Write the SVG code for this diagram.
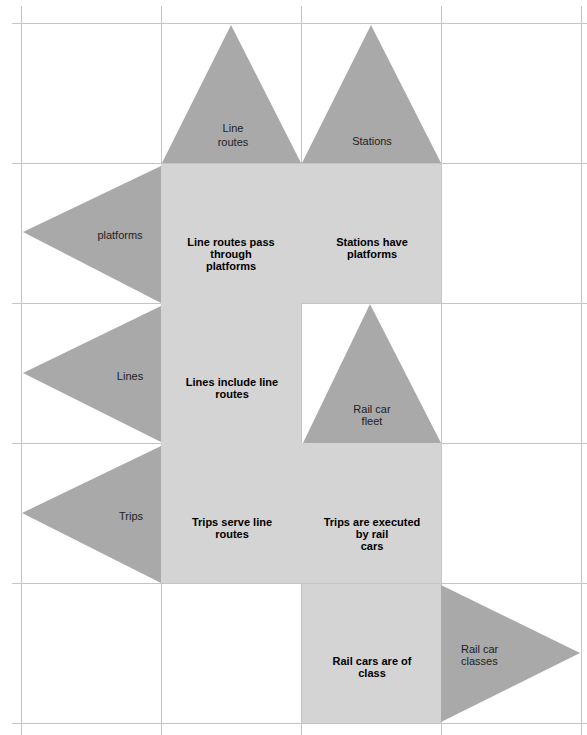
<svg xmlns="http://www.w3.org/2000/svg" width="587" height="735" viewBox="0 0 587 735">
<style>
.grid line{stroke:#c4c4c4;stroke-width:1}
.sq{fill:#d4d4d4}
.tri{fill:#a9a9a9}
.lab{font-family:"Liberation Sans",Arial,sans-serif;font-size:11px;fill:#222;text-anchor:middle}
.bold{font-family:"Liberation Sans",Arial,sans-serif;font-size:11px;font-weight:bold;fill:#000;text-anchor:middle}
</style>
<rect width="587" height="735" fill="#fff"/>
<g class="grid">
<line x1="12" y1="23.5" x2="587" y2="23.5"/>
<line x1="12" y1="163.5" x2="587" y2="163.5"/>
<line x1="12" y1="303.5" x2="587" y2="303.5"/>
<line x1="12" y1="443.5" x2="587" y2="443.5"/>
<line x1="12" y1="583.5" x2="587" y2="583.5"/>
<line x1="12" y1="723.5" x2="587" y2="723.5"/>
<line x1="21.5" y1="6" x2="21.5" y2="735"/>
<line x1="161.5" y1="6" x2="161.5" y2="735"/>
<line x1="301.5" y1="6" x2="301.5" y2="735"/>
<line x1="441.5" y1="6" x2="441.5" y2="735"/>
<line x1="581.5" y1="6" x2="581.5" y2="735"/>
</g>
<g id="connectors"></g>
<g id="sq-line-routes-platforms"><rect class="sq" x="161" y="164" width="140" height="139"/><text class="bold" x="231" y="246">Line routes pass</text><text class="bold" x="231" y="258">through</text><text class="bold" x="231" y="270">platforms</text></g>
<g id="sq-stations-platforms"><rect class="sq" x="301" y="164" width="140" height="139"/><text class="bold" x="372" y="246">Stations have</text><text class="bold" x="372" y="258">platforms</text></g>
<g id="sq-lines-line-routes"><rect class="sq" x="161" y="303" width="140" height="140"/><text class="bold" x="232" y="386">Lines include line</text><text class="bold" x="232" y="398">routes</text></g>
<g id="sq-trips-line-routes"><rect class="sq" x="161" y="443" width="140" height="140"/><text class="bold" x="232" y="526">Trips serve line</text><text class="bold" x="232" y="538">routes</text></g>
<g id="sq-trips-rail-cars"><rect class="sq" x="301" y="443" width="140" height="140"/><text class="bold" x="372" y="526">Trips are executed</text><text class="bold" x="372" y="538">by rail</text><text class="bold" x="372" y="550">cars</text></g>
<g id="sq-rail-cars-class"><rect class="sq" x="302" y="584" width="139" height="139"/><text class="bold" x="372" y="665">Rail cars are of</text><text class="bold" x="372" y="677">class</text></g>
<g id="tri-line-routes"><polygon class="tri" points="162,163 231,25 301,163"/><text class="lab" x="233" y="132">Line</text><text class="lab" x="233" y="146">routes</text></g>
<g id="tri-stations"><polygon class="tri" points="302,163 371,25 441,163"/><text class="lab" x="372" y="145">Stations</text></g>
<g id="tri-platforms"><polygon class="tri" points="161,166 23,232 161,303"/><text class="lab" x="120" y="239">platforms</text></g>
<g id="tri-lines"><polygon class="tri" points="161,306 23,373 161,442"/><text class="lab" x="130" y="380">Lines</text></g>
<g id="tri-rail-car-fleet"><polygon class="tri" points="303,443 370,304 441,443"/><text class="lab" x="372" y="413">Rail car</text><text class="lab" x="372" y="425">fleet</text></g>
<g id="tri-trips"><polygon class="tri" points="161,446 22,513 161,583"/><text class="lab" x="131" y="520">Trips</text></g>
<g id="tri-rail-car-classes"><polygon class="tri" points="441,585 580,653 441,722"/><text class="lab" x="461" y="653" text-anchor="start" style="text-anchor:start">Rail car</text><text class="lab" x="461" y="665" style="text-anchor:start">classes</text></g>
</svg>
